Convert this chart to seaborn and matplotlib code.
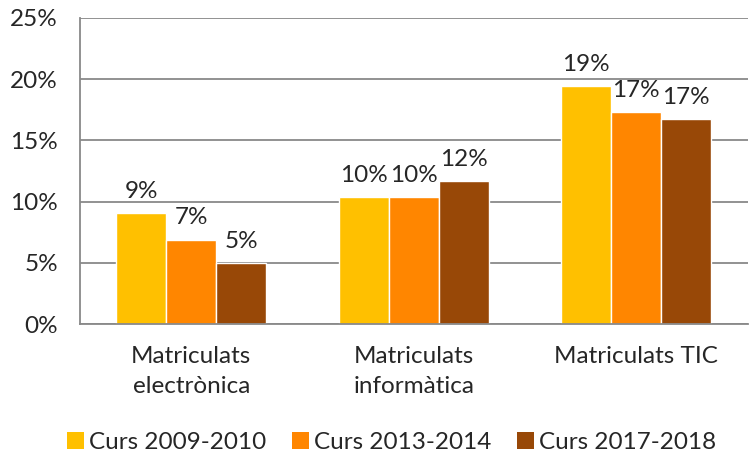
import matplotlib
matplotlib.use("Agg")
import matplotlib.pyplot as plt
import seaborn as sns
import pandas as pd
from matplotlib.patches import Patch

categories = ["Matriculats\nelectrònica", "Matriculats\ninformàtica", "Matriculats TIC"]
series = ["Curs 2009-2010", "Curs 2013-2014", "Curs 2017-2018"]
values_2009 = [9.1, 10.4, 19.4]
values_2013 = [6.9, 10.4, 17.3]
values_2017 = [5.0, 11.7, 16.7]
yticks = [0, 5, 10, 15, 20, 25]
colors = ["#FFC000", "#FF8600", "#984807"]

rows = []
for s, vals in zip(series, [values_2009, values_2013, values_2017]):
    for c, v in zip(categories, vals):
        rows.append({"cat": c, "serie": s, "val": v})
df = pd.DataFrame(rows)

sns.set_style("white")
plt.rcParams['font.family'] = ['Lato', 'DejaVu Sans']
FS = 17.5

fig = plt.figure(figsize=(7.5, 4.57), dpi=100)
ax = fig.add_axes([0.1067, 0.291, 0.890, 0.670])

sns.barplot(data=df, x="cat", y="val", hue="serie", palette=colors,
            width=0.675, saturation=1, ax=ax, legend=False, errorbar=None)

ax.set_ylim(0, 25)
ax.set_xlim(-0.5, 2.5)
ax.set_yticks(yticks)
ax.set_yticklabels([f"{t}%" for t in yticks], fontsize=FS)
ax.yaxis.grid(True, color="#898989", linewidth=1.3)
ax.set_axisbelow(True)
ax.set_xlabel("")
ax.set_ylabel("")

for sp in ["top", "right"]:
    ax.spines[sp].set_visible(False)
for sp in ["left", "bottom"]:
    ax.spines[sp].set_color("#898989")
    ax.spines[sp].set_linewidth(1.3)

ax.tick_params(axis="y", direction="out", length=6, color="#898989", width=1.3, pad=10)
ax.set_xticks([0, 1, 2])
ax.set_xticklabels(categories, fontsize=FS, linespacing=1.5)
ax.tick_params(axis="x", length=0, pad=16)
ax.set_xticks([-0.5, 0.5, 1.5, 2.5], minor=True)
ax.tick_params(axis="x", which="minor", direction="out", length=7, color="#898989", width=1.3)

for cont in ax.containers:
    for bar in cont:
        h = bar.get_height()
        ax.text(bar.get_x() + bar.get_width() / 2, h + 0.9, f"{h:.0f}%",
                ha="center", va="bottom", fontsize=FS)

handles = [Patch(facecolor=c, edgecolor="none") for c in colors]
fig.legend(handles, series, loc="center", bbox_to_anchor=(0.522, 0.032), ncol=3,
           frameon=False, fontsize=FS, handlelength=0.7, handleheight=0.7,
           handletextpad=0.2, columnspacing=1.05)

fig.savefig("out.png", dpi=100)
